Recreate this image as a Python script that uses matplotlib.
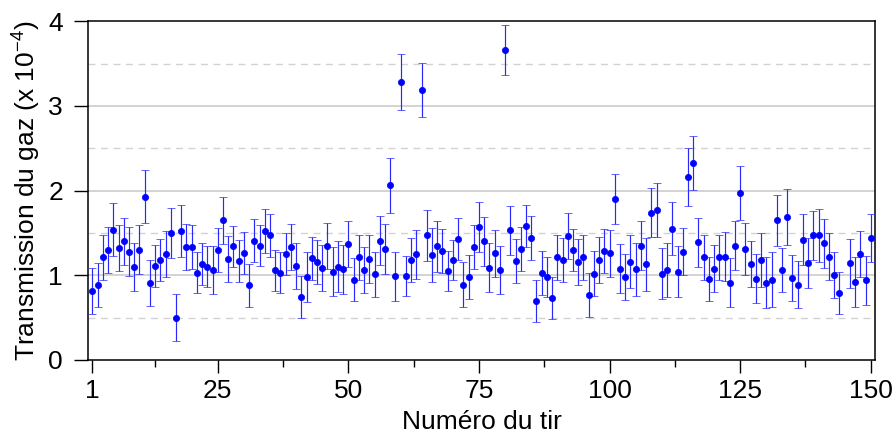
import numpy as np
import matplotlib
matplotlib.use("Agg")
import matplotlib.pyplot as plt
from matplotlib.ticker import FixedLocator

plt.rcParams['font.family'] = ['Liberation Sans', 'DejaVu Sans']
plt.rcParams['mathtext.fontset'] = 'custom'
plt.rcParams['mathtext.rm'] = 'Liberation Sans'
plt.rcParams['mathtext.it'] = 'Liberation Sans'

shots = list(range(1, 151))

transmission = [
    0.815, 0.886, 1.21, 1.30, 1.54, 1.32, 1.40, 1.28, 1.10, 1.30,
    1.93, 0.91, 1.11, 1.18, 1.25, 1.50, 0.50, 1.52, 1.33, 1.33,
    1.03, 1.13, 1.10, 1.06, 1.30, 1.65, 1.19, 1.34, 1.17, 1.26,
    0.88, 1.41, 1.35, 1.52, 1.47, 1.06, 1.03, 1.25, 1.33, 1.11,
    0.74, 0.98, 1.20, 1.16, 1.09, 1.35, 1.04, 1.10, 1.07, 1.37,
    0.95, 1.21, 1.06, 1.19, 1.01, 1.41, 1.31, 2.06, 0.99, 3.28,
    0.99, 1.18, 1.25, 3.19, 1.47, 1.24, 1.34, 1.29, 1.05, 1.18,
    1.43, 0.89, 0.98, 1.33, 1.57, 1.40, 1.09, 1.26, 1.06, 3.66,
    1.53, 1.17, 1.31, 1.58, 1.44, 0.70, 1.03, 0.98, 0.73, 1.21,
    1.18, 1.46, 1.30, 1.16, 1.21, 0.77, 1.02, 1.18, 1.29, 1.26,
    1.90, 1.08, 0.98, 1.16, 1.07, 1.35, 1.13, 1.74, 1.77, 1.02,
    1.06, 1.55, 1.04, 1.28, 2.16, 2.33, 1.39, 1.21, 0.96, 1.08,
    1.21, 1.22, 0.91, 1.35, 1.97, 1.31, 1.13, 0.96, 1.18, 0.91,
    0.95, 1.65, 1.06, 1.69, 0.97, 0.89, 1.42, 1.145, 1.47, 1.47,
    1.38, 1.22, 1.00, 0.79, np.nan, 1.14, 0.92, 1.25, 0.94, 1.44,
]

uncertainty = [
    0.27, 0.26, 0.26, 0.27, 0.31, 0.27, 0.28, 0.29, 0.28, 0.29,
    0.31, 0.27, 0.25, 0.25, 0.27, 0.30, 0.28, 0.31, 0.27, 0.26,
    0.24, 0.25, 0.24, 0.28, 0.26, 0.28, 0.27, 0.24, 0.25, 0.25,
    0.25, 0.25, 0.24, 0.26, 0.25, 0.24, 0.24, 0.25, 0.27, 0.27,
    0.25, 0.30, 0.25, 0.26, 0.27, 0.27, 0.29, 0.30, 0.29, 0.27,
    0.25, 0.27, 0.27, 0.28, 0.27, 0.29, 0.30, 0.32, 0.29, 0.33,
    0.24, 0.26, 0.29, 0.32, 0.30, 0.32, 0.30, 0.26, 0.24, 0.24,
    0.25, 0.27, 0.26, 0.26, 0.30, 0.29, 0.29, 0.28, 0.28, 0.30,
    0.29, 0.26, 0.26, 0.25, 0.26, 0.25, 0.26, 0.24, 0.25, 0.27,
    0.26, 0.27, 0.25, 0.27, 0.26, 0.26, 0.27, 0.27, 0.26, 0.28,
    0.29, 0.29, 0.27, 0.31, 0.31, 0.29, 0.31, 0.29, 0.32, 0.30,
    0.32, 0.31, 0.30, 0.28, 0.34, 0.32, 0.29, 0.26, 0.26, 0.28,
    0.27, 0.29, 0.29, 0.29, 0.32, 0.31, 0.27, 0.29, 0.32, 0.30,
    0.32, 0.30, 0.26, 0.33, 0.27, 0.28, 0.30, 0.29, 0.29, 0.31,
    0.29, 0.28, 0.27, 0.25, np.nan, 0.285, 0.29, 0.27, 0.285, 0.28,
]

x_major_ticks = [1, 25, 50, 75, 100, 125, 150]
x_minor_ticks = [13, 37.5, 62.5, 87.5, 112.5, 137.5]
y_ticks = [0, 1, 2, 3, 4]
solid_grid = [1, 2, 3]
dashed_grid = [0.5, 1.5, 2.5, 3.5]

fig = plt.figure(figsize=(8.95, 4.41), dpi=100)
ax = fig.add_axes([0.0983, 0.1837, 0.8799, 0.7683])

for g in solid_grid:
    ax.axhline(g, color='#c8c8c8', lw=1.1, zorder=0)
for g in dashed_grid:
    ax.axhline(g, color='#d2d2d2', lw=1.0, ls=(0, (5, 4)), zorder=0)

ax.errorbar(shots, transmission, yerr=uncertainty, fmt='o', color='#0000ff',
            mec='#0000ff', mfc='#0000ff', mew=0.5,
            ecolor='#2828ff', elinewidth=0.85, capsize=3.0, capthick=0.85,
            markersize=4.5, zorder=3)

ax.set_xlim(0.15, 150.9)
ax.set_ylim(0, 4)
ax.set_xticks(x_major_ticks)
ax.xaxis.set_minor_locator(FixedLocator(x_minor_ticks))
ax.set_yticks(y_ticks)
ax.tick_params(axis='both', which='major', direction='out', labelsize=19,
               width=1.0, color='black')
ax.tick_params(axis='x', which='major', length=9.5, pad=4)
ax.tick_params(axis='x', which='minor', length=5, width=1.0, direction='out')
ax.tick_params(axis='y', which='major', length=10, pad=8)
for s in ax.spines.values():
    s.set_linewidth(1.1)
    s.set_color('black')

ax.set_xlabel('Numéro du tir', fontsize=19, labelpad=5)
ax.set_ylabel('Transmission du gaz (x 10$^{-4}$)', fontsize=19, labelpad=4)

fig.savefig('out.png', dpi=100)
